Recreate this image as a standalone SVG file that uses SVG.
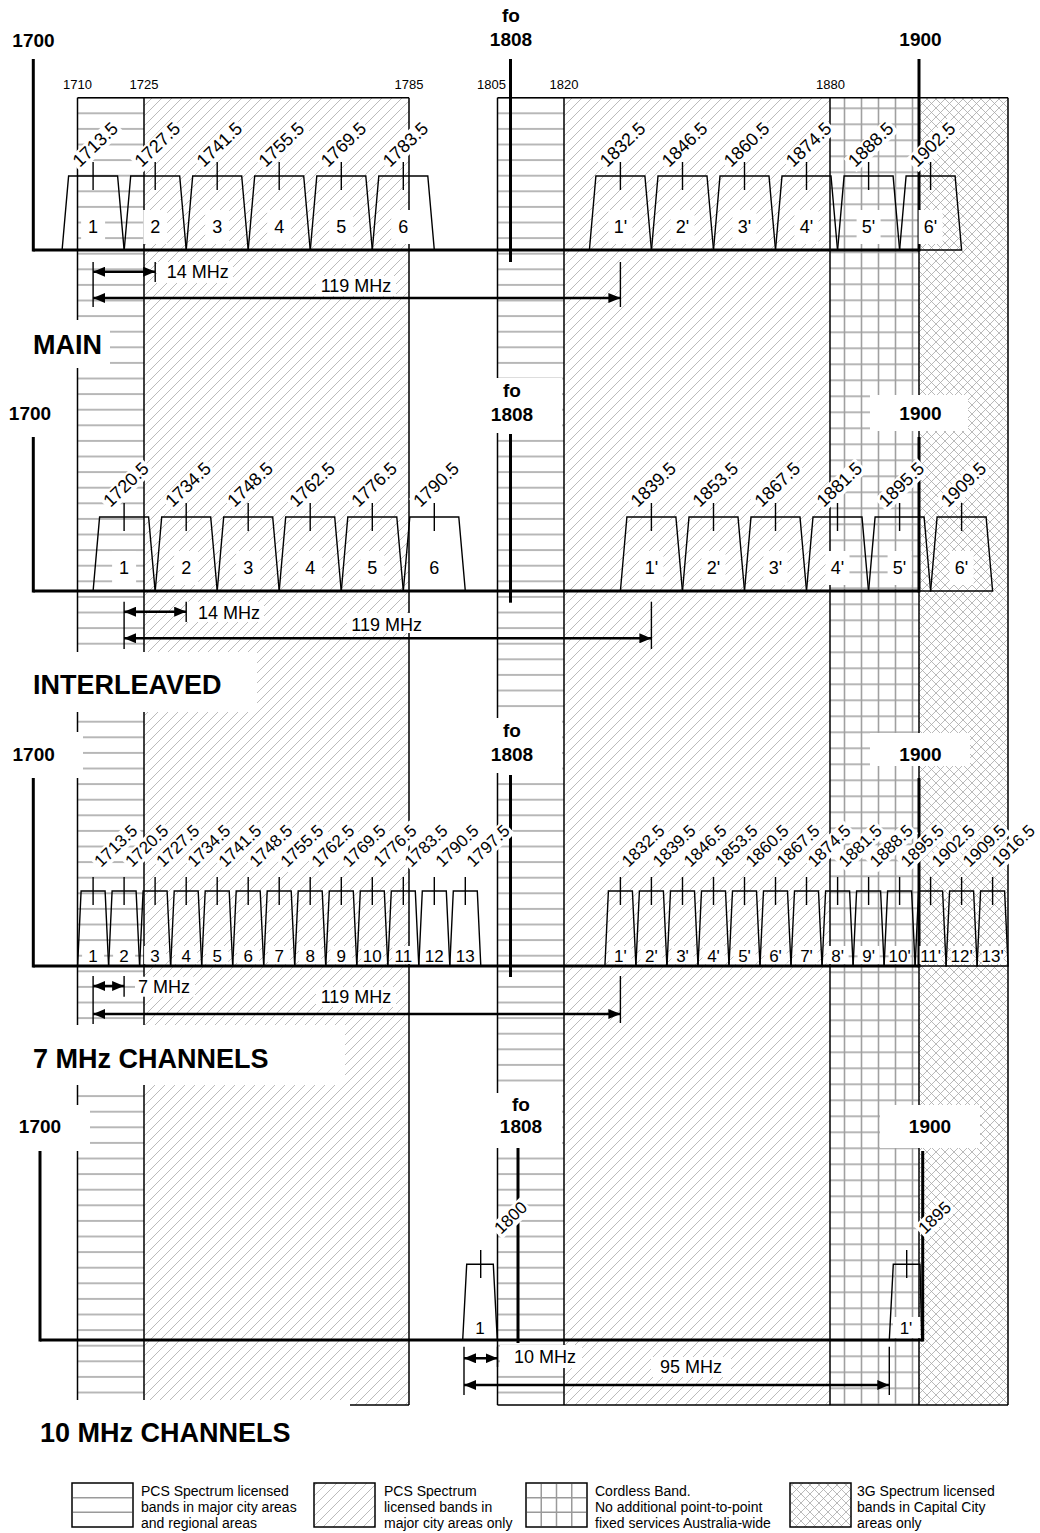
<svg xmlns="http://www.w3.org/2000/svg" width="1040" height="1533" viewBox="0 0 1040 1533">
<style>
text{font-family:"Liberation Sans",Arial,Helvetica,sans-serif;fill:#000}
.h{font-size:19px;font-weight:bold;text-anchor:middle}
.s{font-size:13px;text-anchor:middle}
.r{font-size:18px}
.r7{font-size:17px}
.n{font-size:18px;text-anchor:middle}
.m{font-size:17px;text-anchor:middle}
.d{font-size:18px}
.dm{font-size:18px;text-anchor:middle}
.sec{font-size:27px;font-weight:bold}
.lg{font-size:14px}
.wb{fill:#fff}
.bd{stroke:#000;stroke-width:1.5;fill:none}
.tz{fill:none;stroke:#000;stroke-width:1.4}
.tk{stroke:#000;stroke-width:1.4}
.ax{stroke:#000;stroke-width:3}
.ar{stroke:#000;stroke-width:2.5;marker-start:url(#ah);marker-end:url(#ah)}
.tl{stroke:#000;stroke-width:1.4}
.gl{stroke:#9a9a9a;stroke-width:1.5}
</style>
<defs>
<pattern id="hp" patternUnits="userSpaceOnUse" x="0" y="105.5" width="20" height="15.6"><line x1="0" y1="7.8" x2="20" y2="7.8" stroke="#9a9a9a" stroke-width="1.4"/></pattern>
<pattern id="dp" patternUnits="userSpaceOnUse" width="10" height="10"><path d="M-1,11 L11,-1 M-1,1 L1,-1 M9,11 L11,9" stroke="#a4a4a4" stroke-width="0.75"/></pattern>
<pattern id="gp" patternUnits="userSpaceOnUse" x="836" y="100.3" width="17" height="16"><path d="M8.5,0 V16 M0,8 H17" stroke="#a0a0a0" stroke-width="1.6"/></pattern>
<pattern id="xp" patternUnits="userSpaceOnUse" width="9" height="9"><path d="M0,0 L9,9 M9,0 L0,9" stroke="#a8a8a8" stroke-width="0.8"/></pattern>
<marker id="ah" viewBox="0 0 12 10" refX="12" refY="5" markerWidth="12" markerHeight="10" markerUnits="userSpaceOnUse" orient="auto-start-reverse"><path d="M0,0 L12,5 L0,10 z" fill="#000"/></marker>
<g id="chA"><polygon class="tz" points="-31,0 -24.5,-74 24.5,-74 31,0"/><line class="tk" x1="0" y1="-88" x2="0" y2="-60"/></g>
<g id="chB"><polygon class="tz" points="-15.5,0 -12,-75 12,-75 15.5,0"/><line class="tk" x1="0" y1="-89" x2="0" y2="-61"/></g>
<rect id="lb" class="wb" x="-2" y="-14.5" width="59" height="18.5"/>
<rect id="lb7" class="wb" x="-2" y="-14" width="56" height="18"/>
</defs>
<rect width="1040" height="1533" fill="#fff"/>

<g id="bands">
<rect x="77.5" y="97.7" width="66.5" height="1307.3" fill="url(#hp)"/>
<rect x="144" y="97.7" width="265" height="1307.3" fill="url(#dp)"/>
<rect x="497.5" y="97.7" width="66.5" height="1307.3" fill="url(#hp)"/>
<rect x="564" y="97.7" width="266" height="1307.3" fill="url(#dp)"/>
<rect x="830" y="97.7" width="89" height="1307.3" fill="url(#gp)"/>
<rect x="919" y="97.7" width="89" height="1307.3" fill="url(#xp)"/>
<path class="bd" d="M77.5,97.7 H409 M497.5,97.7 H1008 M77.5,1405 H409 M497.5,1405 H1008 M77.5,97.7 V1405 M144,97.7 V1405 M409,97.7 V1405 M497.5,97.7 V1405 M564,97.7 V1405 M830,97.7 V1405 M919,97.7 V1405 M1008,97.7 V1405"/>
<text class="s" x="77.5" y="89">1710</text>
<text class="s" x="144" y="89">1725</text>
<text class="s" x="409" y="89">1785</text>
<text class="s" x="491.5" y="89">1805</text>
<text class="s" x="564" y="89">1820</text>
<text class="s" x="830.5" y="89">1880</text>
</g>

<g id="heading-boxes">
<rect class="wb" x="15" y="320" width="95" height="48"/>
<rect class="wb" x="483" y="378" width="79" height="55"/>
<rect class="wb" x="870" y="395" width="98" height="36"/>
<rect class="wb" x="15" y="652" width="242" height="60"/>
<rect class="wb" x="5" y="732" width="78" height="46"/>
<rect class="wb" x="483" y="718" width="79" height="55"/>
<rect class="wb" x="870" y="733" width="100" height="33"/>
<rect class="wb" x="15" y="1025" width="330" height="60"/>
<rect class="wb" x="0" y="1105" width="90" height="46"/>
<rect class="wb" x="493" y="1093" width="69" height="55"/>
<rect class="wb" x="880" y="1105" width="100" height="43"/>
<rect class="wb" x="15" y="1400" width="335" height="60"/>
</g>

<g id="axes">
<line class="ax" x1="33.3" y1="59" x2="33.3" y2="251.5"/>
<line class="ax" x1="510.5" y1="59" x2="510.5" y2="262"/>
<line class="ax" x1="919" y1="59" x2="919" y2="251.5"/>
<line class="ax" x1="33.3" y1="437" x2="33.3" y2="592.5"/>
<line class="ax" x1="510.5" y1="434" x2="510.5" y2="602.7"/>
<line class="ax" x1="919" y1="437" x2="919" y2="592.5"/>
<line class="ax" x1="33.3" y1="778" x2="33.3" y2="967.5"/>
<line class="ax" x1="510.5" y1="775" x2="510.5" y2="977"/>
<line class="ax" x1="919" y1="778" x2="919" y2="967.5"/>
<line class="ax" x1="40" y1="1151" x2="40" y2="1341.5"/>
<line class="ax" x1="518" y1="1148" x2="518" y2="1343"/>
<line class="ax" x1="922.7" y1="1151" x2="922.7" y2="1341.5"/>
</g>

<g id="headings">
<text class="h" x="33.5" y="46.7">1700</text>
<text class="h" x="511" y="21.7">fo</text><text class="h" x="511" y="45.5">1808</text>
<text class="h" x="920.5" y="46">1900</text>
<text class="sec" x="33" y="354">MAIN</text>
<text class="h" x="30" y="420">1700</text>
<text class="h" x="512" y="396.7">fo</text><text class="h" x="512" y="420.5">1808</text>
<text class="h" x="920.5" y="420">1900</text>
<text class="sec" x="33" y="694">INTERLEAVED</text>
<text class="h" x="33.7" y="760.7">1700</text>
<text class="h" x="512" y="736.7">fo</text><text class="h" x="512" y="760.7">1808</text>
<text class="h" x="920.5" y="760.7">1900</text>
<text class="sec" x="33" y="1068">7 MHz CHANNELS</text>
<text class="h" x="40" y="1133">1700</text>
<text class="h" x="521" y="1111">fo</text><text class="h" x="521" y="1133">1808</text>
<text class="h" x="930" y="1133">1900</text>
<text class="sec" x="40" y="1442">10 MHz CHANNELS</text>
</g>

<g id="freq-labels">
<g transform="translate(79.7 168) rotate(-44)"><use href="#lb"/><text class="r">1713.5</text></g>
<g transform="translate(141.8 168) rotate(-44)"><use href="#lb"/><text class="r">1727.5</text></g>
<g transform="translate(203.8 168) rotate(-44)"><use href="#lb"/><text class="r">1741.5</text></g>
<g transform="translate(265.8 168) rotate(-44)"><use href="#lb"/><text class="r">1755.5</text></g>
<g transform="translate(327.9 168) rotate(-44)"><use href="#lb"/><text class="r">1769.5</text></g>
<g transform="translate(389.9 168) rotate(-44)"><use href="#lb"/><text class="r">1783.5</text></g>
<g transform="translate(607 168) rotate(-44)"><use href="#lb"/><text class="r">1832.5</text></g>
<g transform="translate(669.1 168) rotate(-44)"><use href="#lb"/><text class="r">1846.5</text></g>
<g transform="translate(731.1 168) rotate(-44)"><use href="#lb"/><text class="r">1860.5</text></g>
<g transform="translate(793.1 168) rotate(-44)"><use href="#lb"/><text class="r">1874.5</text></g>
<g transform="translate(855.2 168) rotate(-44)"><use href="#lb"/><text class="r">1888.5</text></g>
<g transform="translate(917.2 168) rotate(-44)"><use href="#lb"/><text class="r">1902.5</text></g>

<g transform="translate(110.4 508) rotate(-44)"><use href="#lb"/><text class="r">1720.5</text></g>
<g transform="translate(172.5 508) rotate(-44)"><use href="#lb"/><text class="r">1734.5</text></g>
<g transform="translate(234.5 508) rotate(-44)"><use href="#lb"/><text class="r">1748.5</text></g>
<g transform="translate(296.5 508) rotate(-44)"><use href="#lb"/><text class="r">1762.5</text></g>
<g transform="translate(358.6 508) rotate(-44)"><use href="#lb"/><text class="r">1776.5</text></g>
<g transform="translate(420.6 508) rotate(-44)"><use href="#lb"/><text class="r">1790.5</text></g>
<g transform="translate(637.7 508) rotate(-44)"><use href="#lb"/><text class="r">1839.5</text></g>
<g transform="translate(699.8 508) rotate(-44)"><use href="#lb"/><text class="r">1853.5</text></g>
<g transform="translate(761.8 508) rotate(-44)"><use href="#lb"/><text class="r">1867.5</text></g>
<g transform="translate(823.8 508) rotate(-44)"><use href="#lb"/><text class="r">1881.5</text></g>
<g transform="translate(885.9 508) rotate(-44)"><use href="#lb"/><text class="r">1895.5</text></g>
<g transform="translate(947.9 508) rotate(-44)"><use href="#lb"/><text class="r">1909.5</text></g>

<g transform="translate(101.1 868) rotate(-44)"><use href="#lb7"/><text class="r7">1713.5</text></g>
<g transform="translate(132.1 868) rotate(-44)"><use href="#lb7"/><text class="r7">1720.5</text></g>
<g transform="translate(163.1 868) rotate(-44)"><use href="#lb7"/><text class="r7">1727.5</text></g>
<g transform="translate(194.2 868) rotate(-44)"><use href="#lb7"/><text class="r7">1734.5</text></g>
<g transform="translate(225.2 868) rotate(-44)"><use href="#lb7"/><text class="r7">1741.5</text></g>
<g transform="translate(256.2 868) rotate(-44)"><use href="#lb7"/><text class="r7">1748.5</text></g>
<g transform="translate(287.2 868) rotate(-44)"><use href="#lb7"/><text class="r7">1755.5</text></g>
<g transform="translate(318.2 868) rotate(-44)"><use href="#lb7"/><text class="r7">1762.5</text></g>
<g transform="translate(349.3 868) rotate(-44)"><use href="#lb7"/><text class="r7">1769.5</text></g>
<g transform="translate(380.3 868) rotate(-44)"><use href="#lb7"/><text class="r7">1776.5</text></g>
<g transform="translate(411.3 868) rotate(-44)"><use href="#lb7"/><text class="r7">1783.5</text></g>
<g transform="translate(442.3 868) rotate(-44)"><use href="#lb7"/><text class="r7">1790.5</text></g>
<g transform="translate(473.3 868) rotate(-44)"><use href="#lb7"/><text class="r7">1797.5</text></g>
<g transform="translate(628.4 868) rotate(-44)"><use href="#lb7"/><text class="r7">1832.5</text></g>
<g transform="translate(659.4 868) rotate(-44)"><use href="#lb7"/><text class="r7">1839.5</text></g>
<g transform="translate(690.5 868) rotate(-44)"><use href="#lb7"/><text class="r7">1846.5</text></g>
<g transform="translate(721.5 868) rotate(-44)"><use href="#lb7"/><text class="r7">1853.5</text></g>
<g transform="translate(752.5 868) rotate(-44)"><use href="#lb7"/><text class="r7">1860.5</text></g>
<g transform="translate(783.5 868) rotate(-44)"><use href="#lb7"/><text class="r7">1867.5</text></g>
<g transform="translate(814.5 868) rotate(-44)"><use href="#lb7"/><text class="r7">1874.5</text></g>
<g transform="translate(845.6 868) rotate(-44)"><use href="#lb7"/><text class="r7">1881.5</text></g>
<g transform="translate(876.6 868) rotate(-44)"><use href="#lb7"/><text class="r7">1888.5</text></g>
<g transform="translate(907.6 868) rotate(-44)"><use href="#lb7"/><text class="r7">1895.5</text></g>
<g transform="translate(938.6 868) rotate(-44)"><use href="#lb7"/><text class="r7">1902.5</text></g>
<g transform="translate(969.6 868) rotate(-44)"><use href="#lb7"/><text class="r7">1909.5</text></g>
<g transform="translate(998.6 868) rotate(-44)"><use href="#lb7"/><text class="r7">1916.5</text></g>

<g transform="translate(501 1235) rotate(-44)"><rect class="wb" x="-2" y="-14" width="42" height="18"/><text class="r7">1800</text></g>
<g transform="translate(925 1235) rotate(-44)"><rect class="wb" x="-2" y="-14" width="42" height="18"/><text class="r7">1895</text></g>
</g>

<g id="channel-numbers">
<g fill="#fff">
<rect x="81.1" y="210" width="24" height="34"/><rect x="143.2" y="210" width="24" height="34"/><rect x="205.2" y="210" width="24" height="34"/><rect x="267.2" y="210" width="24" height="34"/><rect x="329.3" y="210" width="24" height="34"/><rect x="391.3" y="210" width="24" height="34"/>
<rect x="608.4" y="210" width="24" height="34"/><rect x="670.5" y="210" width="24" height="34"/><rect x="732.5" y="210" width="24" height="34"/><rect x="794.5" y="210" width="24" height="34"/><rect x="856.6" y="210" width="24" height="34"/><rect x="918.6" y="210" width="24" height="34"/>
<rect x="112.1" y="551" width="24" height="34"/><rect x="174.2" y="551" width="24" height="34"/><rect x="236.2" y="551" width="24" height="34"/><rect x="298.2" y="551" width="24" height="34"/><rect x="360.3" y="551" width="24" height="34"/><rect x="422.3" y="551" width="24" height="34"/>
<rect x="639.4" y="551" width="24" height="34"/><rect x="701.5" y="551" width="24" height="34"/><rect x="763.5" y="551" width="24" height="34"/><rect x="825.5" y="551" width="24" height="34"/><rect x="887.6" y="551" width="24" height="34"/><rect x="949.6" y="551" width="24" height="34"/>
</g>
<text class="n" x="93.1" y="233">1</text><text class="n" x="155.2" y="233">2</text><text class="n" x="217.2" y="233">3</text><text class="n" x="279.2" y="233">4</text><text class="n" x="341.3" y="233">5</text><text class="n" x="403.3" y="233">6</text>
<text class="n" x="620.4" y="233">1'</text><text class="n" x="682.5" y="233">2'</text><text class="n" x="744.5" y="233">3'</text><text class="n" x="806.5" y="233">4'</text><text class="n" x="868.6" y="233">5'</text><text class="n" x="930.6" y="233">6'</text>
<text class="n" x="124.1" y="574.3">1</text><text class="n" x="186.2" y="574.3">2</text><text class="n" x="248.2" y="574.3">3</text><text class="n" x="310.2" y="574.3">4</text><text class="n" x="372.3" y="574.3">5</text><text class="n" x="434.3" y="574.3">6</text>
<text class="n" x="651.4" y="574.3">1'</text><text class="n" x="713.5" y="574.3">2'</text><text class="n" x="775.5" y="574.3">3'</text><text class="n" x="837.5" y="574.3">4'</text><text class="n" x="899.6" y="574.3">5'</text><text class="n" x="961.6" y="574.3">6'</text>
<g fill="#fff">
<rect x="82.1" y="946" width="22" height="18"/><rect x="113.1" y="946" width="22" height="18"/><rect x="144.1" y="946" width="22" height="18"/><rect x="175.2" y="946" width="22" height="18"/><rect x="206.2" y="946" width="22" height="18"/><rect x="237.2" y="946" width="22" height="18"/><rect x="268.2" y="946" width="22" height="18"/><rect x="299.2" y="946" width="22" height="18"/><rect x="330.3" y="946" width="22" height="18"/><rect x="361.3" y="946" width="22" height="18"/><rect x="392.3" y="946" width="22" height="18"/><rect x="423.3" y="946" width="22" height="18"/><rect x="454.3" y="946" width="22" height="18"/>
<rect x="609.4" y="946" width="22" height="18"/><rect x="640.4" y="946" width="22" height="18"/><rect x="671.5" y="946" width="22" height="18"/><rect x="702.5" y="946" width="22" height="18"/><rect x="733.5" y="946" width="22" height="18"/><rect x="764.5" y="946" width="22" height="18"/><rect x="795.5" y="946" width="22" height="18"/><rect x="826.6" y="946" width="22" height="18"/><rect x="857.6" y="946" width="22" height="18"/><rect x="888.6" y="946" width="22" height="18"/><rect x="919.6" y="946" width="22" height="18"/><rect x="950.6" y="946" width="22" height="18"/><rect x="981.6" y="946" width="22" height="18"/>
<rect x="470" y="1318" width="21" height="20"/><rect x="893" y="1317" width="27" height="21"/>
</g>
<text class="m" x="93.1" y="961.7">1</text><text class="m" x="124.1" y="961.7">2</text><text class="m" x="155.1" y="961.7">3</text><text class="m" x="186.2" y="961.7">4</text><text class="m" x="217.2" y="961.7">5</text><text class="m" x="248.2" y="961.7">6</text><text class="m" x="279.2" y="961.7">7</text><text class="m" x="310.2" y="961.7">8</text><text class="m" x="341.3" y="961.7">9</text><text class="m" x="372.3" y="961.7">10</text><text class="m" x="403.3" y="961.7">11</text><text class="m" x="434.3" y="961.7">12</text><text class="m" x="465.3" y="961.7">13</text>
<text class="m" x="620.4" y="961.7">1'</text><text class="m" x="651.4" y="961.7">2'</text><text class="m" x="682.5" y="961.7">3'</text><text class="m" x="713.5" y="961.7">4'</text><text class="m" x="744.5" y="961.7">5'</text><text class="m" x="775.5" y="961.7">6'</text><text class="m" x="806.5" y="961.7">7'</text><text class="m" x="837.6" y="961.7">8'</text><text class="m" x="868.6" y="961.7">9'</text><text class="m" x="899.6" y="961.7">10'</text><text class="m" x="930.6" y="961.7">11'</text><text class="m" x="961.6" y="961.7">12'</text><text class="m" x="992.6" y="961.7">13'</text>
<text class="m" x="480" y="1334">1</text><text class="m" x="906" y="1334">1'</text>
</g>

<g id="channels">
<use href="#chA" x="93.1" y="250"/><use href="#chA" x="155.2" y="250"/><use href="#chA" x="217.2" y="250"/><use href="#chA" x="279.2" y="250"/><use href="#chA" x="341.3" y="250"/><use href="#chA" x="403.3" y="250"/>
<use href="#chA" x="620.4" y="250"/><use href="#chA" x="682.5" y="250"/><use href="#chA" x="744.5" y="250"/><use href="#chA" x="806.5" y="250"/><use href="#chA" x="868.6" y="250"/><use href="#chA" x="930.6" y="250"/>
<use href="#chA" x="124.1" y="591"/><use href="#chA" x="186.2" y="591"/><use href="#chA" x="248.2" y="591"/><use href="#chA" x="310.2" y="591"/><use href="#chA" x="372.3" y="591"/><use href="#chA" x="434.3" y="591"/>
<use href="#chA" x="651.4" y="591"/><use href="#chA" x="713.5" y="591"/><use href="#chA" x="775.5" y="591"/><use href="#chA" x="837.5" y="591"/><use href="#chA" x="899.6" y="591"/><use href="#chA" x="961.6" y="591"/>
<use href="#chB" x="93.1" y="966"/><use href="#chB" x="124.1" y="966"/><use href="#chB" x="155.1" y="966"/><use href="#chB" x="186.2" y="966"/><use href="#chB" x="217.2" y="966"/><use href="#chB" x="248.2" y="966"/><use href="#chB" x="279.2" y="966"/><use href="#chB" x="310.2" y="966"/><use href="#chB" x="341.3" y="966"/><use href="#chB" x="372.3" y="966"/><use href="#chB" x="403.3" y="966"/><use href="#chB" x="434.3" y="966"/><use href="#chB" x="465.3" y="966"/>
<use href="#chB" x="620.4" y="966"/><use href="#chB" x="651.4" y="966"/><use href="#chB" x="682.5" y="966"/><use href="#chB" x="713.5" y="966"/><use href="#chB" x="744.5" y="966"/><use href="#chB" x="775.5" y="966"/><use href="#chB" x="806.5" y="966"/><use href="#chB" x="837.6" y="966"/><use href="#chB" x="868.6" y="966"/><use href="#chB" x="899.6" y="966"/><use href="#chB" x="930.6" y="966"/><use href="#chB" x="961.6" y="966"/><use href="#chB" x="992.6" y="966"/>
<polygon class="tz" points="462.7,1340 466.7,1264.3 493.3,1264.3 497.3,1340"/>
<line class="tk" x1="480.7" y1="1250" x2="480.7" y2="1278"/>
<polygon class="tz" points="889.3,1340 893.3,1264.3 920,1264.3 921.7,1340"/>
<line class="tk" x1="906.7" y1="1250" x2="906.7" y2="1278"/>
</g>

<g id="baselines">
<line class="ax" x1="33.3" y1="250" x2="919" y2="250"/>
<line class="ax" x1="33.3" y1="591" x2="919" y2="591"/>
<line class="ax" x1="33.3" y1="966" x2="919" y2="966"/>
<line class="ax" x1="40" y1="1340" x2="922.7" y2="1340"/>
</g>

<g id="connectors">
<g fill="#fff">
<rect x="157" y="262" width="76" height="21"/>
<rect x="316" y="276" width="80" height="20"/>
<rect x="187" y="601.7" width="77" height="20.3"/>
<rect x="347" y="613" width="80" height="20"/>
<rect x="135" y="976.7" width="60" height="20"/>
<rect x="316" y="987" width="80" height="20"/>
<rect x="500" y="1345" width="82" height="23"/>
<rect x="651" y="1357" width="80" height="20"/>
</g>
<line class="tl" x1="93.1" y1="262" x2="93.1" y2="307"/>
<line class="tl" x1="155.2" y1="262" x2="155.2" y2="282"/>
<line class="tl" x1="620.4" y1="262" x2="620.4" y2="307"/>
<line class="ar" x1="93.1" y1="271.7" x2="155.2" y2="271.7"/>
<line class="ar" x1="93.1" y1="298" x2="620.4" y2="298"/>
<text class="d" x="166.7" y="278">14 MHz</text>
<text class="dm" x="356" y="291.7">119 MHz</text>

<line class="tl" x1="124.1" y1="601.7" x2="124.1" y2="649"/>
<line class="tl" x1="186.2" y1="601.7" x2="186.2" y2="622"/>
<line class="tl" x1="651.4" y1="601.7" x2="651.4" y2="649"/>
<line class="ar" x1="124.1" y1="611.7" x2="186.2" y2="611.7"/>
<line class="ar" x1="124.1" y1="638.3" x2="651.4" y2="638.3"/>
<text class="d" x="198" y="619">14 MHz</text>
<text class="dm" x="386.7" y="630.7">119 MHz</text>

<line class="tl" x1="93.1" y1="976" x2="93.1" y2="1024"/>
<line class="tl" x1="124.1" y1="976" x2="124.1" y2="996.7"/>
<line class="tl" x1="620.4" y1="976" x2="620.4" y2="1023"/>
<line class="ar" x1="93.1" y1="986" x2="124.1" y2="986"/>
<line class="ar" x1="93.1" y1="1014" x2="620.4" y2="1014"/>
<text class="d" x="138" y="993">7 MHz</text>
<text class="dm" x="356" y="1002.7">119 MHz</text>

<line class="tl" x1="464" y1="1346.7" x2="464" y2="1395"/>
<line class="tl" x1="497.5" y1="1346.7" x2="497.5" y2="1367"/>
<line class="tl" x1="889.3" y1="1346.7" x2="889.3" y2="1395"/>
<line class="ar" x1="464" y1="1358.3" x2="497.5" y2="1358.3"/>
<line class="ar" x1="464" y1="1385" x2="889.3" y2="1385"/>
<text class="d" x="514" y="1363.3">10 MHz</text>
<text class="dm" x="691" y="1373">95 MHz</text>
</g>

<g id="legend">
<g id="legend-pcs-regional">
<rect x="72" y="1483" width="61" height="44" fill="#fff"/>
<path class="gl" d="M73,1497.7 H132 M73,1512.3 H132"/>
<rect class="bd" x="72" y="1483" width="61" height="44"/>
<text class="lg" x="141" y="1495.5">PCS Spectrum licensed</text>
<text class="lg" x="141" y="1511.5">bands in major city areas</text>
<text class="lg" x="141" y="1527.5">and regional areas</text>
</g>
<g id="legend-pcs-city">
<rect x="314" y="1483" width="61" height="44" fill="url(#dp)"/>
<rect class="bd" x="314" y="1483" width="61" height="44"/>
<text class="lg" x="384" y="1495.5">PCS Spectrum</text>
<text class="lg" x="384" y="1511.5">licensed bands in</text>
<text class="lg" x="384" y="1527.5">major city areas only</text>
</g>
<g id="legend-cordless">
<path class="gl" d="M541.25,1484 V1526 M556.5,1484 V1526 M571.75,1484 V1526 M527,1497.7 H586 M527,1512.3 H586"/>
<rect class="bd" x="526" y="1483" width="61" height="44"/>
<text class="lg" x="595" y="1495.5">Cordless Band.</text>
<text class="lg" x="595" y="1511.5">No additional point-to-point</text>
<text class="lg" x="595" y="1527.5">fixed services Australia-wide</text>
</g>
<g id="legend-3g">
<rect x="790" y="1483" width="61" height="44" fill="url(#xp)"/>
<rect class="bd" x="790" y="1483" width="61" height="44"/>
<text class="lg" x="857" y="1495.5">3G Spectrum licensed</text>
<text class="lg" x="857" y="1511.5">bands in Capital City</text>
<text class="lg" x="857" y="1527.5">areas only</text>
</g>
</g>
</svg>
